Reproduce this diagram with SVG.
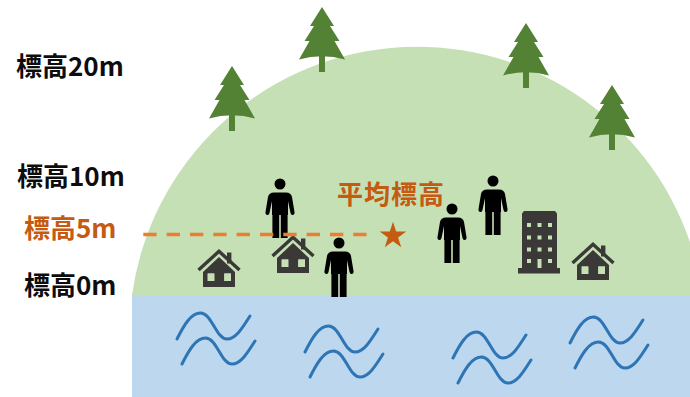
<svg xmlns="http://www.w3.org/2000/svg" xmlns:xlink="http://www.w3.org/1999/xlink" width="690" height="397" viewBox="0 0 690 397">
  <style>
    .lbl { font-family: "Noto Sans CJK JP", "Noto Sans", sans-serif; font-weight: bold; font-size: 26px; }
    .dark { fill: #0d0d0d; }
    .accent { fill: #c55a11; }
    .tree { fill: #548235; }
    .icon { fill: #3b3838; }
    .person { fill: #000000; }
    .hole { fill: #c5e0b4; }
    .wave { fill: none; stroke: #2e75b6; stroke-width: 3; stroke-linecap: round; }
  </style>
  <defs>
    <!-- conifer, origin at the tip -->
    <g id="tree-shape">
      <rect class="tree" x="-3" y="44" width="6" height="21"/>
      <path class="tree" d="M0,0 L12,19 L8,19 L17.5,34 L12.5,34 L23,52.5 Q0,46 -23,52.5 L-12.5,34 L-17.5,34 L-8,19 L-12,19 Z"/>
    </g>
    <!-- standing figure, origin at the head centre -->
    <g id="person-shape">
      <circle class="person" cx="0" cy="0" r="5.5"/>
      <path class="person" d="M-6,8.5 H6 Q11,8.5 12,13 L14.5,28 Q15,30.5 13,31 Q11,31.5 10.5,29 L8,17 V31 H-8 V17 L-10.5,29 Q-11,31.5 -13,31 Q-15,30.5 -14.5,28 L-12,13 Q-11,8.5 -6,8.5 Z"/>
      <rect class="person" x="-7.6" y="29" width="6.8" height="25"/>
      <rect class="person" x="0.8" y="29" width="6.8" height="25"/>
    </g>
    <!-- house, origin at the roof ridge -->
    <g id="house-shape">
      <rect class="icon" x="8" y="3" width="4.4" height="11"/>
      <polyline points="-20.5,20.5 0,1.8 20.5,20.5" fill="none" stroke="#3b3838" stroke-width="3.4"/>
      <path class="icon" fill-rule="evenodd" d="M0,7.5 L16,22.5 V37.5 H-16 V22.5 Z M-11.3,24 V31.4 H-4.7 V24 Z M5.3,24 V31.4 H12 V24 Z"/>
      <path class="hole" d="M-11.3,24 V31.4 H-4.7 V24 Z M5.3,24 V31.4 H12 V24 Z"/>
    </g>
    <!-- pair of waves, origin at the start of the upper stroke -->
    <g id="wave-pair">
      <path class="wave" d="M0,0 C7,-14 14,-26 23.5,-26 C35,-26 39,0 50,0 C59,0 66,-12 73,-23"/>
      <path class="wave" d="M5,25 C12,11 19,-1 28.5,-1 C40,-1 44,25 55,25 C64,25 71,13 78,2"/>
    </g>
  </defs>

  <!-- ground and water -->
  <g id="hill">
    <path d="M132,295 A288,288 0 0 1 690,242.3 L690,295 Z" fill="#c5e0b4"/>
  </g>
  <g id="sea">
    <rect x="132" y="295" width="558" height="102" fill="#bdd7ee"/>
    <use xlink:href="#wave-pair" x="177" y="339"/>
    <use xlink:href="#wave-pair" x="305" y="352"/>
    <use xlink:href="#wave-pair" x="453" y="358"/>
    <use xlink:href="#wave-pair" x="570" y="343"/>
  </g>

  <!-- trees -->
  <g id="tree-1"><use xlink:href="#tree-shape" x="232" y="66"/></g>
  <g id="tree-2"><use xlink:href="#tree-shape" x="322" y="7"/></g>
  <g id="tree-3"><use xlink:href="#tree-shape" x="526" y="23"/></g>
  <g id="tree-4"><use xlink:href="#tree-shape" x="612" y="85"/></g>

  <!-- houses -->
  <g id="house-1"><use xlink:href="#house-shape" x="219" y="249.5"/></g>
  <g id="house-2"><use xlink:href="#house-shape" x="293" y="235.5"/></g>
  <g id="house-3"><use xlink:href="#house-shape" x="593" y="242.5"/></g>

  <!-- tall building -->
  <g id="building">
    <path class="icon" d="M524,211 H555 L557,213.5 V268 H560 V273.5 H518 V268 H522 V213.5 Z"/>
    <g class="hole">
      <rect x="527" y="223" width="4" height="4"/><rect x="537.5" y="223" width="4" height="4"/><rect x="548" y="223" width="4" height="4"/>
      <rect x="527" y="235.5" width="4" height="4"/><rect x="537.5" y="235.5" width="4" height="4"/><rect x="548" y="235.5" width="4" height="4"/>
      <rect x="527" y="247.5" width="4" height="4"/><rect x="537.5" y="247.5" width="4" height="4"/><rect x="548" y="247.5" width="4" height="4"/>
      <rect x="527" y="259" width="4" height="4"/><rect x="537.5" y="259" width="4" height="9"/><rect x="548" y="259" width="4" height="4"/>
    </g>
  </g>

  <!-- people -->
  <g id="person-1"><use xlink:href="#person-shape" x="280" y="184"/></g>
  <g id="person-2"><use xlink:href="#person-shape" x="339" y="243"/></g>
  <g id="person-3"><use xlink:href="#person-shape" x="452" y="209"/></g>
  <g id="person-4"><use xlink:href="#person-shape" x="493" y="181"/></g>

  <!-- mean elevation line and marker -->
  <g id="connectors">
    <line x1="143.3" y1="234.5" x2="366.7" y2="234.5" stroke="#ed7d31" stroke-width="3.3" stroke-dasharray="13.33 10"/>
  </g>
  <g id="mean-marker">
    <polygon class="accent" transform="translate(393,235.8)" points="0,-14 3.14,-4.33 13.31,-4.33 5.09,1.65 8.23,11.33 0,5.35 -8.23,11.33 -5.09,1.65 -13.31,-4.33 -3.14,-4.33"/>
    <text class="lbl accent" x="337" y="204" letter-spacing="1">平均標高</text>
  </g>

  <!-- elevation labels -->
  <g id="labels">
    <text class="lbl dark" x="16" y="76">標高20m</text>
    <text class="lbl dark" x="17" y="186">標高10m</text>
    <text class="lbl accent" x="24" y="238">標高5m</text>
    <text class="lbl dark" x="24" y="295">標高0m</text>
  </g>
</svg>
